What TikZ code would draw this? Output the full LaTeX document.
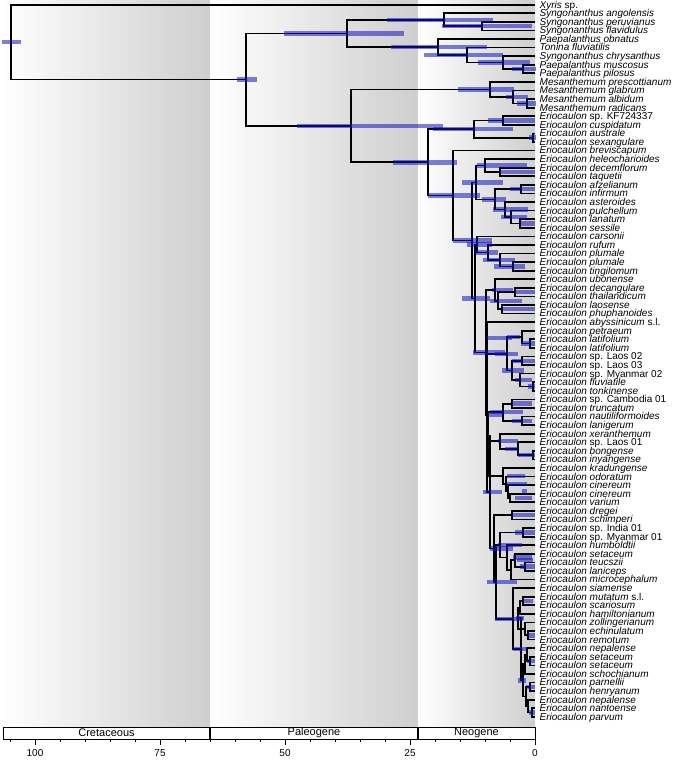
\documentclass[tikz,border=0pt]{standalone}
\usepackage{fontspec}
\setmainfont{Liberation Sans}
\usetikzlibrary{calc}
\definecolor{hpdc}{RGB}{20,20,190}
\tikzset{
  br/.style={line width=1.7pt, black, line join=miter},
  hpdbar/.style={fill=hpdc, fill opacity=0.55},
  lab/.style={anchor=base west, inner sep=0pt, font=\fontsize{10}{10}\selectfont\itshape},
  era/.style={inner sep=0pt, font=\fontsize{11}{11}\selectfont},
  tick/.style={inner sep=0pt, font=\fontsize{10}{10}\selectfont},
  bgshade/.style={left color=white, right color=black!19},
}
\newcommand\rmp[1]{{\upshape #1}}
\newcommand\clade[4]{%
  \coordinate (#1m) at ($(#3)!0.5!(#4)$);
  \coordinate (#1) at ($(#2,0)!(#1m)!(#2,10)$);
  \draw[br] (#3) -| (#1) |- (#4);
}
\newcommand\hpd[3]{%
  \fill[hpdbar] ($(#2,0)!(#1)!(#2,10)+(0,-2.2)$) rectangle ($(#3,0)!(#1)!(#3,10)+(0,2.2)$);
}
\begin{document}
\begin{tikzpicture}[x=1pt,y=-1pt]
\useasboundingbox (0,0) rectangle (677,760);
% background eras
\shade[bgshade] (0,0) rectangle (210,727);
\shade[bgshade] (210,0) rectangle (418,727);
\shade[bgshade] (418,0) rectangle (535,727);
% tips
\foreach \i in {1,...,84}{\coordinate (t\i) at (535,{4.7+(\i-1)*8.58});}
% Paepalantheae
\clade{PF}{482}{t3}{t4}
\clade{S}{444}{t2}{PF}
\clade{D}{523}{t8}{t9}
\clade{Cp}{503}{t7}{D}
\clade{B}{467}{t6}{Cp}
\clade{A}{438}{t5}{B}
\clade{P}{347}{S}{A}
% Mesanthemum
\clade{M3}{527}{t12}{t13}
\clade{M2}{513}{t11}{M3}
\clade{M1}{490}{t10}{M2}
% Eriocaulon
\clade{KC}{503}{t14}{t15}
\clade{AS}{533}{t16}{t17}
\clade{E2}{474}{KC}{AS}
\clade{DT}{500}{t20}{t21}
\clade{H}{485}{t19}{DT}
\clade{AI}{521}{t22}{t23}
\clade{LS}{520}{t26}{t27}
\clade{PLS}{511}{t25}{LS}
\clade{AS2}{505}{t24}{PLS}
\clade{I}{495}{AI}{AS2}
\clade{G}{476}{H}{I}
\clade{P3}{513}{t31}{t32}
\clade{P2}{500}{t30}{P3}
\clade{P1}{488}{t29}{P2}
\clade{CA}{477}{t28}{P1}
\clade{DT2}{515}{t34}{t35}
\clade{LP}{502}{t36}{t37}
\clade{DTLP}{498}{DT2}{LP}
\clade{U}{495}{t33}{DTLP}
\clade{L1}{530}{t40}{t41}
\clade{L2}{522}{t39}{L1}
\clade{LL}{522}{t42}{t43}
\clade{FT}{533}{t45}{t46}
\clade{MFT}{520}{t44}{FT}
\clade{LM}{512}{LL}{MFT}
\clade{NLL}{507}{L2}{LM}
\clade{Qt}{487}{t38}{NLL}
\clade{CT1}{512}{t47}{t48}
\clade{NL}{522}{t49}{t50}
\clade{CT}{503}{CT1}{NL}
\clade{BI}{533}{t53}{t54}
\clade{LB}{518}{t52}{BI}
\clade{XLB}{500}{t51}{LB}
\clade{KK1}{510}{t58}{t59}
\clade{KK2}{508}{t57}{KK1}
\clade{KK3}{506}{t56}{KK2}
\clade{KK4}{503}{t55}{KK3}
\clade{W1}{489}{XLB}{KK4}
\clade{X}{488}{CT}{W1}
\clade{DS}{512}{t60}{t61}
\clade{IM}{523}{t62}{t63}
\clade{H1}{525}{t66}{t67}
\clade{H2}{515}{t65}{H1}
\clade{H3}{511}{H2}{t68}
\clade{H4}{507}{t64}{H3}
\clade{IMH}{500}{IM}{H4}
\clade{SA1}{523}{t70}{t71}
\clade{SA2}{520}{SA1}{t72}
\clade{SA3}{528}{t74}{t75}
\clade{SA4}{525}{t73}{SA3}
\clade{SA}{518}{SA2}{SA4}
\clade{SB1}{530}{t77}{t78}
\clade{SB2}{527}{t76}{SB1}
\clade{SB3}{525}{SB2}{t79}
\clade{SB4}{530}{t80}{t81}
\clade{SB5}{532}{t83}{t84}
\clade{SB6}{528}{t82}{SB5}
\clade{SB7}{526}{SB4}{SB6}
\clade{SB}{523}{SB3}{SB7}
\clade{S2}{521}{SA}{SB}
\clade{S1}{513}{t69}{S2}
\clade{N580}{496}{IMH}{S1}
\clade{N548}{494}{DS}{N580}
\clade{N491}{490}{X}{N548}
\clade{Bq}{487}{Qt}{N491}
\clade{E6}{486}{U}{Bq}
\clade{E5}{475}{CA}{E6}
\clade{E4}{472}{G}{E5}
\clade{E3}{453}{t18}{E4}
\clade{E1}{428}{E2}{E3}
\clade{X0}{351}{M1}{E1}
\clade{K}{246}{P}{X0}
\clade{R}{11}{t1}{K}
% HPD bars
\hpd{R}{2}{21}
\hpd{K}{237}{257}
\hpd{P}{284}{404}
\hpd{S}{387}{493}
\hpd{PF}{442}{532}
\hpd{A}{391}{487}
\hpd{B}{424}{503}
\hpd{Cp}{478}{530}
\hpd{D}{512}{536}
\hpd{X0}{297}{443}
\hpd{M1}{458}{514}
\hpd{M2}{506}{528}
\hpd{M3}{517}{536}
\hpd{E1}{393}{457}
\hpd{E2}{433}{513}
\hpd{KC}{488}{535}
\hpd{AS}{529}{536}
\hpd{E3}{428}{480}
\hpd{E4}{453}{492}
\hpd{G}{462}{503}
\hpd{H}{477}{527}
\hpd{DT}{500}{535}
\hpd{I}{482}{506}
\hpd{AI}{510}{535}
\hpd{AS2}{493}{528}
\hpd{PLS}{501}{527}
\hpd{LS}{520}{535}
\hpd{CA}{467}{492}
\hpd{P1}{475}{498}
\hpd{P2}{483}{515}
\hpd{P3}{494}{525}
\hpd{E5}{462}{490}
\hpd{U}{492}{513}
\hpd{DT2}{515}{535}
\hpd{DTLP}{490}{522}
\hpd{LP}{502}{535}
\hpd{E6}{473}{505}
\hpd{Qt}{487}{512}
\hpd{L2}{507}{520}
\hpd{L1}{521}{535}
\hpd{NLL}{495}{518}
\hpd{LL}{512}{535}
\hpd{LM}{502}{524}
\hpd{MFT}{515}{532}
\hpd{FT}{528}{535}
\hpd{Bq}{488}{503}
\hpd{CT}{490}{523}
\hpd{CT1}{512}{532}
\hpd{NL}{512}{532}
\hpd{XLB}{498}{518}
\hpd{LB}{505}{518}
\hpd{BI}{518}{535}
\hpd{KK4}{507}{525}
\hpd{KK3}{507}{527}
\hpd{KK2}{522}{527}
\hpd{KK1}{515}{532}
\hpd{N491}{483}{502}
\hpd{DS}{512}{535}
\hpd{N548}{490}{513}
\hpd{IMH}{498}{522}
\hpd{IM}{515}{535}
\hpd{H4}{513}{532}
\hpd{H2}{517}{533}
\hpd{H1}{520}{535}
\hpd{N580}{487}{517}
\hpd{S1}{495}{523}
\hpd{S2}{513}{527}
\hpd{SA1}{523}{533}
\hpd{SA3}{528}{535}
\hpd{SA}{516}{524}
\hpd{SB1}{527}{535}
\hpd{SB4}{526}{535}
\hpd{SB5}{529}{535}
\hpd{SB}{518}{526}
% labels
\node[lab] (l1) at ($(t1)+(4.5,3.4)$) {Xyris \rmp{sp.}};
\node[lab] (l2) at ($(t2)+(4.5,3.4)$) {Syngonanthus angolensis};
\node[lab] (l3) at ($(t3)+(4.5,3.4)$) {Syngonanthus peruvianus};
\node[lab] (l4) at ($(t4)+(4.5,3.4)$) {Syngonanthus flavidulus};
\node[lab] (l5) at ($(t5)+(4.5,3.4)$) {Paepalanthus obnatus};
\node[lab] (l6) at ($(t6)+(4.5,3.4)$) {Tonina fluviatilis};
\node[lab] (l7) at ($(t7)+(4.5,3.4)$) {Syngonanthus chrysanthus};
\node[lab] (l8) at ($(t8)+(4.5,3.4)$) {Paepalanthus muscosus};
\node[lab] (l9) at ($(t9)+(4.5,3.4)$) {Paepalanthus pilosus};
\node[lab] (l10) at ($(t10)+(4.5,3.4)$) {Mesanthemum prescottianum};
\node[lab] (l11) at ($(t11)+(4.5,3.4)$) {Mesanthemum glabrum};
\node[lab] (l12) at ($(t12)+(4.5,3.4)$) {Mesanthemum albidum};
\node[lab] (l13) at ($(t13)+(4.5,3.4)$) {Mesanthemum radicans};
\node[lab] (l14) at ($(t14)+(4.5,3.4)$) {Eriocaulon \rmp{sp. KF724337}};
\node[lab] (l15) at ($(t15)+(4.5,3.4)$) {Eriocaulon cuspidatum};
\node[lab] (l16) at ($(t16)+(4.5,3.4)$) {Eriocaulon australe};
\node[lab] (l17) at ($(t17)+(4.5,3.4)$) {Eriocaulon sexangulare};
\node[lab] (l18) at ($(t18)+(4.5,3.4)$) {Eriocaulon breviscapum};
\node[lab] (l19) at ($(t19)+(4.5,3.4)$) {Eriocaulon heleocharioides};
\node[lab] (l20) at ($(t20)+(4.5,3.4)$) {Eriocaulon decemflorum};
\node[lab] (l21) at ($(t21)+(4.5,3.4)$) {Eriocaulon taquetii};
\node[lab] (l22) at ($(t22)+(4.5,3.4)$) {Eriocaulon afzelianum};
\node[lab] (l23) at ($(t23)+(4.5,3.4)$) {Eriocaulon infirmum};
\node[lab] (l24) at ($(t24)+(4.5,3.4)$) {Eriocaulon asteroides};
\node[lab] (l25) at ($(t25)+(4.5,3.4)$) {Eriocaulon pulchellum};
\node[lab] (l26) at ($(t26)+(4.5,3.4)$) {Eriocaulon lanatum};
\node[lab] (l27) at ($(t27)+(4.5,3.4)$) {Eriocaulon sessile};
\node[lab] (l28) at ($(t28)+(4.5,3.4)$) {Eriocaulon carsonii};
\node[lab] (l29) at ($(t29)+(4.5,3.4)$) {Eriocaulon rufum};
\node[lab] (l30) at ($(t30)+(4.5,3.4)$) {Eriocaulon plumale};
\node[lab] (l31) at ($(t31)+(4.5,3.4)$) {Eriocaulon plumale};
\node[lab] (l32) at ($(t32)+(4.5,3.4)$) {Eriocaulon tingilomum};
\node[lab] (l33) at ($(t33)+(4.5,3.4)$) {Eriocaulon ubonense};
\node[lab] (l34) at ($(t34)+(4.5,3.4)$) {Eriocaulon decangulare};
\node[lab] (l35) at ($(t35)+(4.5,3.4)$) {Eriocaulon thailandicum};
\node[lab] (l36) at ($(t36)+(4.5,3.4)$) {Eriocaulon laosense};
\node[lab] (l37) at ($(t37)+(4.5,3.4)$) {Eriocaulon phuphanoides};
\node[lab] (l38) at ($(t38)+(4.5,3.4)$) {Eriocaulon abyssinicum \rmp{s.l.}};
\node[lab] (l39) at ($(t39)+(4.5,3.4)$) {Eriocaulon petraeum};
\node[lab] (l40) at ($(t40)+(4.5,3.4)$) {Eriocaulon latifolium};
\node[lab] (l41) at ($(t41)+(4.5,3.4)$) {Eriocaulon latifolium};
\node[lab] (l42) at ($(t42)+(4.5,3.4)$) {Eriocaulon \rmp{sp. Laos 02}};
\node[lab] (l43) at ($(t43)+(4.5,3.4)$) {Eriocaulon \rmp{sp. Laos 03}};
\node[lab] (l44) at ($(t44)+(4.5,3.4)$) {Eriocaulon \rmp{sp. Myanmar 02}};
\node[lab] (l45) at ($(t45)+(4.5,3.4)$) {Eriocaulon fluviatile};
\node[lab] (l46) at ($(t46)+(4.5,3.4)$) {Eriocaulon tonkinense};
\node[lab] (l47) at ($(t47)+(4.5,3.4)$) {Eriocaulon \rmp{sp. Cambodia 01}};
\node[lab] (l48) at ($(t48)+(4.5,3.4)$) {Eriocaulon truncatum};
\node[lab] (l49) at ($(t49)+(4.5,3.4)$) {Eriocaulon nautiliformoides};
\node[lab] (l50) at ($(t50)+(4.5,3.4)$) {Eriocaulon lanigerum};
\node[lab] (l51) at ($(t51)+(4.5,3.4)$) {Eriocaulon xeranthemum};
\node[lab] (l52) at ($(t52)+(4.5,3.4)$) {Eriocaulon \rmp{sp. Laos 01}};
\node[lab] (l53) at ($(t53)+(4.5,3.4)$) {Eriocaulon bongense};
\node[lab] (l54) at ($(t54)+(4.5,3.4)$) {Eriocaulon inyangense};
\node[lab] (l55) at ($(t55)+(4.5,3.4)$) {Eriocaulon kradungense};
\node[lab] (l56) at ($(t56)+(4.5,3.4)$) {Eriocaulon odoratum};
\node[lab] (l57) at ($(t57)+(4.5,3.4)$) {Eriocaulon cinereum};
\node[lab] (l58) at ($(t58)+(4.5,3.4)$) {Eriocaulon cinereum};
\node[lab] (l59) at ($(t59)+(4.5,3.4)$) {Eriocaulon varium};
\node[lab] (l60) at ($(t60)+(4.5,3.4)$) {Eriocaulon dregei};
\node[lab] (l61) at ($(t61)+(4.5,3.4)$) {Eriocaulon schimperi};
\node[lab] (l62) at ($(t62)+(4.5,3.4)$) {Eriocaulon \rmp{sp. India 01}};
\node[lab] (l63) at ($(t63)+(4.5,3.4)$) {Eriocaulon \rmp{sp. Myanmar 01}};
\node[lab] (l64) at ($(t64)+(4.5,3.4)$) {Eriocaulon humboldtii};
\node[lab] (l65) at ($(t65)+(4.5,3.4)$) {Eriocaulon setaceum};
\node[lab] (l66) at ($(t66)+(4.5,3.4)$) {Eriocaulon teucszii};
\node[lab] (l67) at ($(t67)+(4.5,3.4)$) {Eriocaulon laniceps};
\node[lab] (l68) at ($(t68)+(4.5,3.4)$) {Eriocaulon microcephalum};
\node[lab] (l69) at ($(t69)+(4.5,3.4)$) {Eriocaulon siamense};
\node[lab] (l70) at ($(t70)+(4.5,3.4)$) {Eriocaulon mutatum \rmp{s.l.}};
\node[lab] (l71) at ($(t71)+(4.5,3.4)$) {Eriocaulon scariosum};
\node[lab] (l72) at ($(t72)+(4.5,3.4)$) {Eriocaulon hamiltonianum};
\node[lab] (l73) at ($(t73)+(4.5,3.4)$) {Eriocaulon zollingerianum};
\node[lab] (l74) at ($(t74)+(4.5,3.4)$) {Eriocaulon echinulatum};
\node[lab] (l75) at ($(t75)+(4.5,3.4)$) {Eriocaulon remotum};
\node[lab] (l76) at ($(t76)+(4.5,3.4)$) {Eriocaulon nepalense};
\node[lab] (l77) at ($(t77)+(4.5,3.4)$) {Eriocaulon setaceum};
\node[lab] (l78) at ($(t78)+(4.5,3.4)$) {Eriocaulon setaceum};
\node[lab] (l79) at ($(t79)+(4.5,3.4)$) {Eriocaulon schochianum};
\node[lab] (l80) at ($(t80)+(4.5,3.4)$) {Eriocaulon parnellii};
\node[lab] (l81) at ($(t81)+(4.5,3.4)$) {Eriocaulon henryanum};
\node[lab] (l82) at ($(t82)+(4.5,3.4)$) {Eriocaulon nepalense};
\node[lab] (l83) at ($(t83)+(4.5,3.4)$) {Eriocaulon nantoense};
\node[lab] (l84) at ($(t84)+(4.5,3.4)$) {Eriocaulon parvum};
% geological time bar
\fill[white] (3,727) rectangle (535,739);
\draw[line width=0.8pt] (3,727) rectangle (535,739);
\draw[line width=1.4pt] (210,727) -- (210,739);
\draw[line width=1.4pt] (418,727) -- (418,739);
\node[era] (cre) at (106.5,733) {Cretaceous};
\node[era] (pal) at (314,733) {Paleogene};
\node[era] (neo) at (476.5,733) {Neogene};
\foreach \t in {0,5,...,105}{\draw[line width=0.6pt] ({535-5*\t},739) -- ++(0,3);}
\foreach \t in {0,25,50,75,100}{
  \draw[line width=0.6pt] ({535-5*\t},739) -- ++(0,5.5);
  \node[tick] (tk\t) at ({535-5*\t},753.5) {\t};
}
\end{tikzpicture}
\end{document}
